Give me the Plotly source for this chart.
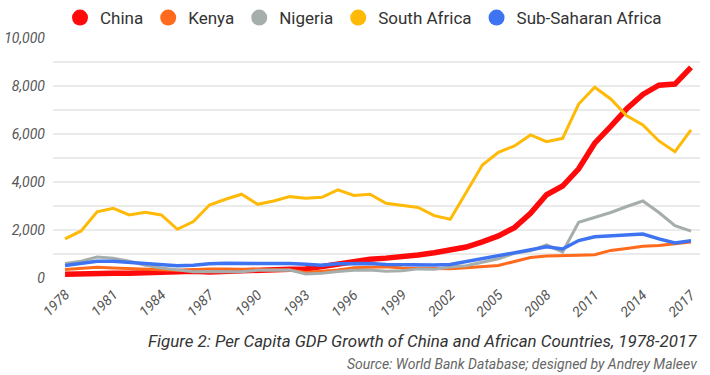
import plotly.graph_objects as go

years = list(range(1978, 2018))

china = [156, 183, 195, 197, 203, 225, 251, 294, 282, 252, 283, 310, 317, 333, 366, 377,
         473, 609, 709, 781, 828, 873, 959, 1053, 1149, 1289, 1509, 1753, 2099, 2694,
         3468, 3832, 4550, 5618, 6317, 7051, 7651, 8033, 8079, 8780]
kenya = [350, 400, 450, 420, 390, 340, 340, 320, 360, 380, 380, 370, 370, 340, 330, 230,
         270, 330, 430, 460, 470, 420, 400, 400, 390, 430, 460, 520, 690, 850,
         920, 920, 950, 970, 1150, 1230, 1320, 1350, 1410, 1500]
nigeria = [600, 700, 870, 820, 700, 530, 420, 350, 260, 270, 260, 260, 320, 320, 330, 170,
           200, 270, 320, 330, 280, 300, 380, 360, 460, 510, 650, 800, 1030, 1130,
           1380, 1080, 2320, 2510, 2730, 2980, 3210, 2730, 2180, 1950]
south_africa = [1630, 1960, 2760, 2900, 2625, 2740, 2625, 2030, 2350, 3040, 3280, 3490,
                3070, 3210, 3390, 3320, 3360, 3670, 3440, 3490, 3110, 3010, 2940, 2600,
                2450, 3570, 4710, 5240, 5500, 5960, 5680, 5820, 7250, 7950, 7460, 6760,
                6375, 5710, 5260, 6170]
ssa = [520, 600, 700, 700, 650, 580, 550, 510, 530, 590, 610, 610, 620, 610, 600, 570,
       530, 590, 600, 600, 560, 550, 570, 540, 560, 680, 820, 930, 1050, 1180,
       1300, 1210, 1560, 1720, 1750, 1800, 1830, 1630, 1460, 1550]

series = [
    ("China", china, "#FF0A0A", 5.5),
    ("Kenya", kenya, "#FF6A1C", 3),
    ("Nigeria", nigeria, "#A5AEAB", 3),
    ("South Africa", south_africa, "#FFBA08", 3),
    ("Sub-Saharan Africa", ssa, "#3E74F2", 3.5),
]

tick_years = list(range(1978, 2018, 3))

FONT = "Roboto, sans-serif"

L, R, T, B, W, H = 53, 10, 38, 97, 710, 375
plot_w = W - L - R
plot_h = H - T - B
X0, X1 = 1977.25, 2017.56

fig = go.Figure()
for name, vals, color, w in series:
    fig.add_trace(go.Scatter(x=years, y=vals, mode="lines", name=name,
                             line=dict(color=color, width=w), showlegend=False))
for name, vals, color, w in series:
    fig.add_trace(go.Scatter(x=[None], y=[None], mode="markers", name=name,
                             marker=dict(color=color, size=18)))

annotations = [
    dict(text="<i>Figure 2: Per Capita GDP Growth of China and African Countries, 1978-2017</i>",
         x=(699 - L) / plot_w, xanchor="right",
         y=-(341 - 278) / plot_h, yanchor="middle",
         xref="paper", yref="paper", showarrow=False,
         font=dict(size=16.9, color="#333", family=FONT)),
    dict(text="<i>Source: World Bank Database; designed by Andrey Maleev</i>",
         x=(699 - L) / plot_w, xanchor="right",
         y=-(364 - 278) / plot_h, yanchor="middle",
         xref="paper", yref="paper", showarrow=False,
         font=dict(size=14, color="#666", family=FONT)),
]
for yr in tick_years:
    annotations.append(dict(
        text=f"<i>{yr}</i>", x=yr, xref="x", xanchor="right", xshift=9,
        y=-(285 - 278) / plot_h, yref="paper", yanchor="top",
        textangle=-45, showarrow=False, borderpad=0,
        font=dict(size=14, color="#555", family=FONT)))

fig.update_layout(
    width=W, height=H,
    margin=dict(l=L, r=R, t=T, b=B, autoexpand=False),
    paper_bgcolor="white", plot_bgcolor="white",
    font=dict(family=FONT, color="#444"),
    legend=dict(orientation="h", x=(68 - 8) / W, xanchor="left", xref="container",
                y=1.0, yanchor="top", yref="container",
                font=dict(size=17, color="#333"),
                itemsizing="trace", tracegroupgap=0),
    annotations=annotations,
)

fig.update_xaxes(range=[X0, X1], tickvals=tick_years, showticklabels=False,
                 showgrid=False, zeroline=False, showline=False, ticks="")
fig.update_yaxes(range=[0, 10000], dtick=2000, tickformat=",d",
                 showgrid=True, gridcolor="#EBEBEB", gridwidth=1.5,
                 minor=dict(dtick=1000, showgrid=True, gridcolor="#EBEBEB", gridwidth=1.5),
                 zeroline=False, showline=False,
                 tickfont=dict(size=14, color="#555"), ticklabelstandoff=7,
                 tickprefix="<i>", ticksuffix="</i>")

fig.write_html("out.html", config={"displayModeBar": False},
               post_script="document.body.style.margin='0px';")
